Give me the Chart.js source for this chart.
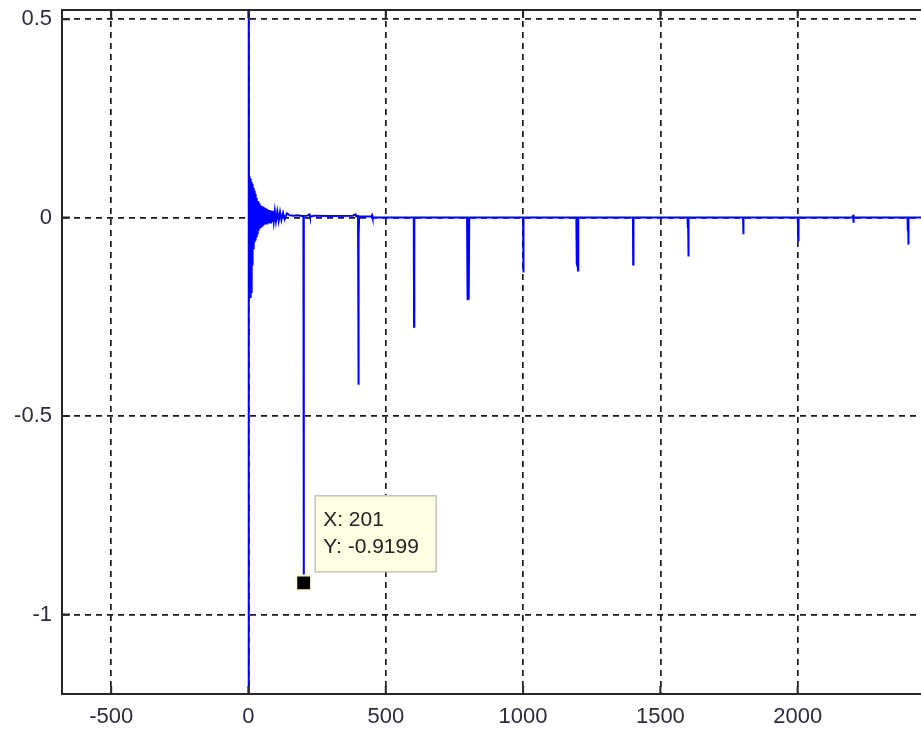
<!DOCTYPE html>
<html>
<head>
<meta charset="utf-8">
<script src="https://cdn.jsdelivr.net/npm/chart.js@4"></script>
<style>
  html, body { margin: 0; padding: 0; background: #fff; }
  #wrap { width: 921px; height: 731px; }
</style>
</head>
<body>
<div id="wrap"><canvas id="chart" width="921" height="731"></canvas></div>
<script>
// ringing right after the direct impulse (sample index / amplitude)
const ringX = [0, 1, 2, 3, 4, 5, 6, 7, 8, 9, 10, 11, 12, 13, 14, 15, 16, 17, 18, 19, 20, 21, 22, 23, 24,
  25, 26, 27, 28, 29, 30, 31, 32, 33, 34, 35, 36, 37, 38, 39, 40, 42, 44, 46, 48, 50, 52, 54, 56, 58,
  60, 62, 64, 66, 68, 70, 73, 76, 79, 82, 85, 88, 92, 96, 100, 105, 110, 115, 120, 126, 132, 140, 150];
const ringY = [-1.6, 0.75, -0.2, 0.104, -0.19, 0.1, -0.2, 0.098, -0.18, 0.095, -0.17, 0.09, -0.19, 0.085,
  -0.12, 0.08, -0.09, 0.075, -0.08, 0.072, -0.07, 0.068, -0.062, 0.066, -0.055, 0.06, -0.05, 0.055,
  -0.047, 0.05, -0.044, 0.046, -0.04, 0.042, -0.037, 0.04, -0.033, 0.037, -0.03, 0.035, -0.028, 0.032,
  -0.026, 0.03, -0.024, 0.028, -0.022, 0.026, -0.019, 0.025, -0.016, 0.024, -0.015, 0.022, -0.014,
  0.02, -0.013, 0.019, -0.012, 0.018, -0.011, 0.017, -0.01, 0.016, -0.009, 0.015, -0.008, 0.014,
  -0.006, 0.012, -0.004, 0.011, 0.006];

// rest of the response: echoes every ~200 samples
const echoX = [165, 180, 195, 200, 201, 202, 215, 222, 224, 240, 300, 380, 390, 392, 399, 400, 401, 402, 403,
  448, 450, 452, 602, 603, 604, 796, 797, 798, 799, 800, 801, 802, 803, 804,
  1000, 1001, 1002, 1194, 1195, 1196, 1197, 1198, 1199, 1200, 1201,
  1400, 1401, 1402, 1599, 1600, 1601, 1602, 1603, 1801, 1802, 1803,
  2000, 2001, 2002, 2003, 2201, 2202, 2203, 2204, 2400, 2401, 2402, 2403, 2404, 2600];
const echoY = [0.005, 0.006, 0.004, 0.004, -0.9199, 0.004, 0.005, 0.008, 0.002, 0.005, 0.004, 0.005, 0.008, 0.003,
  0.004, -0.055, -0.421, -0.05, 0.003,
  0.003, 0.006, 0, 0, -0.275, 0, 0, -0.205, -0.01, -0.208, -0.02, -0.2, -0.01, -0.206, 0,
  0, -0.138, 0, 0, -0.118, -0.01, -0.12, -0.02, -0.118, -0.133, 0,
  0, -0.118, 0, 0, -0.026, -0.01, -0.098, 0, 0, -0.042, 0,
  0, -0.02, -0.057, 0, 0, 0.007, -0.013, 0, 0, -0.033, -0.01, -0.068, 0, 0];

// data tip
const tipX = 201;
const tipY = -0.9199;

// axis ticks
const xTicks = [-500, 0, 500, 1000, 1500, 2000];
const yTicks = [-1, -0.5, 0, 0.5];
const xRange = [-679, 2449];
const yRange = [-1.2, 0.523];

const pts = [];
ringX.forEach((x, i) => pts.push({ x: x, y: ringY[i] }));
echoX.forEach((x, i) => pts.push({ x: x, y: echoY[i] }));

const FONT = '"Liberation Sans", Arial, sans-serif';
const TEXT = '#2e2b3a';
const AXIS = '#262626';

// top border, inward tick marks and the data tip box
const framePlugin = {
  id: 'frame',
  afterDatasetsDraw(chart) {
    const ctx = chart.ctx;
    const xs = chart.scales.x, ys = chart.scales.y;
    const px = xs.getPixelForValue(tipX), py = ys.getPixelForValue(tipY);
    const bx = px + 11.5, by = py - 87, bw = 121, bh = 76;
    ctx.save();
    ctx.fillStyle = '#ffffe3';
    ctx.strokeStyle = '#c4c4bc';
    ctx.lineWidth = 1.5;
    ctx.fillRect(bx, by, bw, bh);
    ctx.strokeRect(bx, by, bw, bh);
    ctx.fillStyle = '#222';
    ctx.font = '21px ' + FONT;
    ctx.textBaseline = 'middle';
    ctx.fillText('X: ' + tipX, bx + 8, by + 24);
    ctx.fillText('Y: ' + tipY, bx + 8, by + 51);
    ctx.restore();
  },
  afterDraw(chart) {
    const ctx = chart.ctx;
    const a = chart.chartArea;
    const xs = chart.scales.x, ys = chart.scales.y;
    ctx.save();
    ctx.strokeStyle = AXIS;
    ctx.lineWidth = 2;
    ctx.beginPath();
    ctx.moveTo(a.left - 1, a.top);
    ctx.lineTo(a.right, a.top);
    xTicks.forEach(v => {
      const x = xs.getPixelForValue(v);
      ctx.moveTo(x, a.top);
      ctx.lineTo(x, a.top + 8);
      ctx.moveTo(x, a.bottom);
      ctx.lineTo(x, a.bottom - 8);
    });
    yTicks.forEach(v => {
      const y = ys.getPixelForValue(v);
      ctx.moveTo(a.left, y);
      ctx.lineTo(a.left + 8, y);
    });
    ctx.stroke();
    ctx.restore();
  }
};

new Chart(document.getElementById('chart'), {
  type: 'scatter',
  data: {
    datasets: [
      {
        data: pts,
        showLine: true,
        borderColor: '#0000ff',
        borderWidth: 2,
        pointRadius: 0,
        tension: 0,
        order: 2
      },
      {
        data: [{ x: tipX, y: tipY }],
        pointStyle: 'rect',
        pointRadius: 10.5,
        backgroundColor: '#000',
        borderColor: '#ffffd6',
        borderWidth: 2,
        order: 1
      }
    ]
  },
  options: {
    responsive: false,
    animation: false,
    events: [],
    layout: { autoPadding: false, padding: { top: 10, right: 0, left: 0, bottom: 0 } },
    plugins: { legend: { display: false }, tooltip: { enabled: false } },
    scales: {
      x: {
        type: 'linear',
        min: xRange[0],
        max: xRange[1],
        afterFit: s => { s.height = 37; s.paddingLeft = 0; s.paddingRight = 0; },
        afterBuildTicks: s => { s.ticks = xTicks.map(v => ({ value: v })); },
        ticks: { font: { family: FONT, size: 22 }, color: TEXT, padding: 10, maxRotation: 0,
          callback: v => String(v) },
        grid: { color: '#1a1a1a', lineWidth: 1.7, drawTicks: false },
        border: { display: true, color: AXIS, width: 2, dash: [6, 5] }
      },
      y: {
        type: 'linear',
        min: yRange[0],
        max: yRange[1],
        afterFit: s => { s.width = 62; s.paddingTop = 0; s.paddingBottom = 0; },
        afterBuildTicks: s => { s.ticks = yTicks.map(v => ({ value: v })); },
        ticks: { font: { family: FONT, size: 22 }, color: TEXT, padding: 10,
          callback: v => String(v) },
        grid: { color: '#1a1a1a', lineWidth: 1.7, drawTicks: false },
        border: { display: true, color: AXIS, width: 2, dash: [6, 5] }
      }
    }
  },
  plugins: [framePlugin]
});
</script>
</body>
</html>
